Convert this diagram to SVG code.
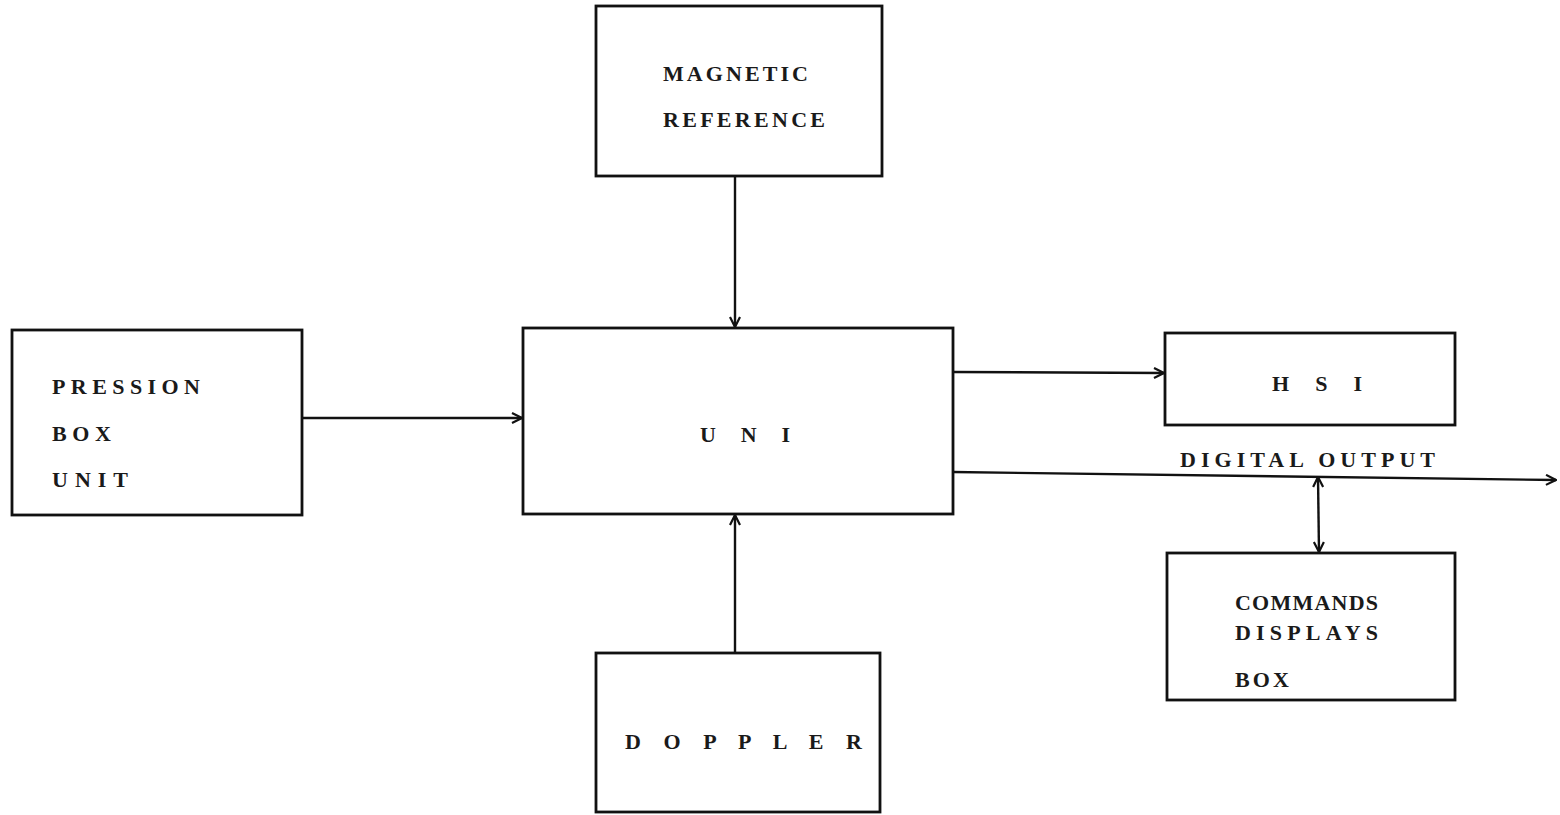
<svg xmlns="http://www.w3.org/2000/svg" width="1560" height="815" viewBox="0 0 1560 815">
<style>
.box{fill:#fff;stroke:#111;stroke-width:2.8}
.t{font-family:"Liberation Serif","DejaVu Serif",serif;font-size:22px;font-weight:bold;fill:#1a1a1a}
.c{fill:none;stroke:#111;stroke-width:2.4}
</style>
<defs>
<marker id="ah" viewBox="0 0 12 12" refX="11" refY="6" markerWidth="12" markerHeight="12" markerUnits="userSpaceOnUse" orient="auto-start-reverse">
<path d="M1,1 L11,6 L1,11" fill="none" stroke="#111" stroke-width="2.2"/>
</marker>
</defs>
<rect width="1560" height="815" fill="#fff"/>
<g id="magnetic">
<rect class="box" x="596" y="6" width="286" height="170"/>
<text class="t" x="663" y="81" textLength="145" lengthAdjust="spacing">MAGNETIC</text>
<text class="t" x="663" y="127" textLength="162" lengthAdjust="spacing">REFERENCE</text>
</g>
<g id="pression">
<rect class="box" x="12" y="330" width="290" height="185"/>
<text class="t" x="52" y="394" textLength="148" lengthAdjust="spacing">PRESSION</text>
<text class="t" x="52" y="441" textLength="59" lengthAdjust="spacing">BOX</text>
<text class="t" x="52" y="487" textLength="76" lengthAdjust="spacing">UNIT</text>
</g>
<g id="uni">
<rect class="box" x="523" y="328" width="430" height="186"/>
<text class="t" x="700" y="442" textLength="90" lengthAdjust="spacing">U N I</text>
</g>
<g id="hsi">
<rect class="box" x="1165" y="333" width="290" height="92"/>
<text class="t" x="1272" y="391" textLength="90" lengthAdjust="spacing">H S I</text>
</g>
<g id="commands">
<rect class="box" x="1167" y="553" width="288" height="147"/>
<text class="t" x="1235" y="610" textLength="143" lengthAdjust="spacing">COMMANDS</text>
<text class="t" x="1235" y="640" textLength="143" lengthAdjust="spacing">DISPLAYS</text>
<text class="t" x="1235" y="687" textLength="54" lengthAdjust="spacing">BOX</text>
</g>
<g id="doppler">
<rect class="box" x="596" y="653" width="284" height="159"/>
<text class="t" x="625" y="749" textLength="237" lengthAdjust="spacing">D O P P L E R</text>
</g>
<g id="connectors">
<line class="c" x1="735" y1="176" x2="735" y2="327" marker-end="url(#ah)"/>
<line class="c" x1="302" y1="418" x2="522" y2="418" marker-end="url(#ah)"/>
<line class="c" x1="735" y1="653" x2="735" y2="515" marker-end="url(#ah)"/>
<line class="c" x1="953" y1="372" x2="1164" y2="373" marker-end="url(#ah)"/>
<line class="c" x1="953" y1="472" x2="1556" y2="480" marker-end="url(#ah)"/>
<line class="c" x1="1318" y1="477" x2="1319" y2="552" marker-start="url(#ah)" marker-end="url(#ah)"/>
<text class="t" x="1180" y="467" textLength="255" lengthAdjust="spacing">DIGITAL OUTPUT</text>
</g>
</svg>
